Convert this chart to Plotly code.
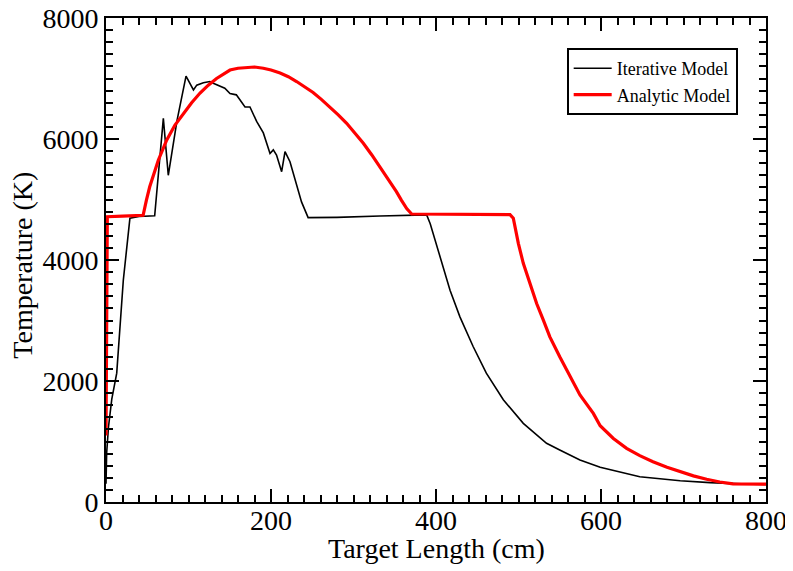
import plotly.graph_objects as go

# Iterative model (black)
iter_x = [0, 0.8, 3, 7, 13, 21, 29, 40, 59, 64, 69.5, 75.5, 86, 97, 106, 110, 118, 126, 130, 144, 150.3, 158,
          168.5, 174.5, 182.6, 190.7, 198.8, 202.8, 206.7, 212.9, 217, 223, 231, 237, 245, 280, 332, 370, 388.7,
          393, 399, 407, 417, 429, 445, 461, 481.6, 505.8, 534, 550, 574.5, 599, 647, 696, 732, 770, 800]
iter_y = [300, 810, 1240, 1700, 2130, 3670, 4690, 4720, 4730, 5500, 6340, 5400, 6300, 7040, 6810, 6890, 6930, 6950,
          6920, 6840, 6750, 6730, 6530, 6530, 6290, 6100, 5760, 5820, 5735, 5460, 5790, 5625, 5240, 4960, 4700,
          4705, 4727, 4738, 4745, 4600, 4330, 3950, 3500, 3060, 2570, 2130, 1690, 1300, 970, 860, 694, 573,
          418, 352, 320, 300, 290]

# Analytic model (red)
anal_x = [0, 1.6, 20, 45, 49, 53, 63.4, 73.5, 83.6, 93.7, 103.8, 114, 124, 134, 144, 150.3, 160, 170.5, 180,
          190.7, 200, 211, 221, 231, 241, 251, 261, 271.5, 281.5, 291.7, 301.8, 311.9, 322, 332, 342, 352,
          358, 364.5, 370.5, 420, 489.7, 493.7, 499.8, 505.8, 514, 522, 530, 538, 550, 562.4, 574.5, 590.7,
          599, 615, 631, 647, 663, 680, 696, 712, 728, 744, 760, 780, 800]
anal_y = [1100, 4716, 4725, 4740, 4990, 5210, 5650, 5980, 6230, 6420, 6600, 6760, 6890, 7000, 7090, 7140, 7170,
          7185, 7190, 7170, 7140, 7090, 7030, 6950, 6865, 6770, 6655, 6530, 6400, 6260, 6100, 5930, 5740, 5540,
          5340, 5130, 4990, 4850, 4760, 4758, 4750, 4690, 4275, 3945, 3615, 3280, 3010, 2730, 2400, 2070, 1770,
          1465, 1260, 1050, 886, 766, 666, 575, 500, 432, 375, 330, 300, 296, 295]

x_title = "Target Length (cm)"
y_title = "Temperature (K)"

serif = "Liberation Serif, Times New Roman, serif"

fig = go.Figure()
fig.add_trace(go.Scatter(x=iter_x, y=iter_y, mode="lines", name="Iterative Model",
                         line=dict(color="black", width=1.6)))
fig.add_trace(go.Scatter(x=anal_x, y=anal_y, mode="lines", name="Analytic Model",
                         line=dict(color="#ff0000", width=3.2)))

axis_common = dict(
    showline=True, linecolor="black", linewidth=2, mirror="allticks",
    ticks="inside", ticklen=13, tickwidth=2, tickcolor="black",
    showgrid=False, zeroline=False, automargin=False,
    ticklabeloverflow="allow",
    tickfont=dict(family=serif, size=28, color="black"),
)

fig.update_xaxes(range=[0, 800], tickmode="linear", tick0=0, dtick=200, ticklabelstandoff=-8,
                 minor=dict(ticks="inside", ticklen=7, tickwidth=2, tickcolor="black", dtick=20, tick0=0,
                            showgrid=False),
                 **axis_common)
fig.update_yaxes(range=[0, 8000], tickmode="linear", tick0=0, dtick=2000,
                 minor=dict(ticks="inside", ticklen=7, tickwidth=2, tickcolor="black", dtick=200, tick0=0,
                            showgrid=False),
                 **axis_common)

fig.add_annotation(text=x_title, xref="paper", yref="paper", x=0.5, y=-0.096,
                   xanchor="center", yanchor="middle", showarrow=False,
                   font=dict(family=serif, size=28, color="black"))
fig.add_annotation(text=y_title, xref="paper", yref="paper", x=-0.126, y=0.49,
                   xanchor="center", yanchor="middle", showarrow=False, textangle=-90,
                   font=dict(family=serif, size=28, color="black"))

fig.update_layout(
    width=785, height=563,
    margin=dict(l=98, r=27, t=10, b=69),
    plot_bgcolor="white", paper_bgcolor="white",
    showlegend=True,
    legend=dict(x=0.698, y=0.938, xanchor="left", yanchor="top",
                bgcolor="white", bordercolor="black", borderwidth=2,
                font=dict(family=serif, size=18, color="black"),
                tracegroupgap=0, itemwidth=38),
)

fig.write_html("out.html")
